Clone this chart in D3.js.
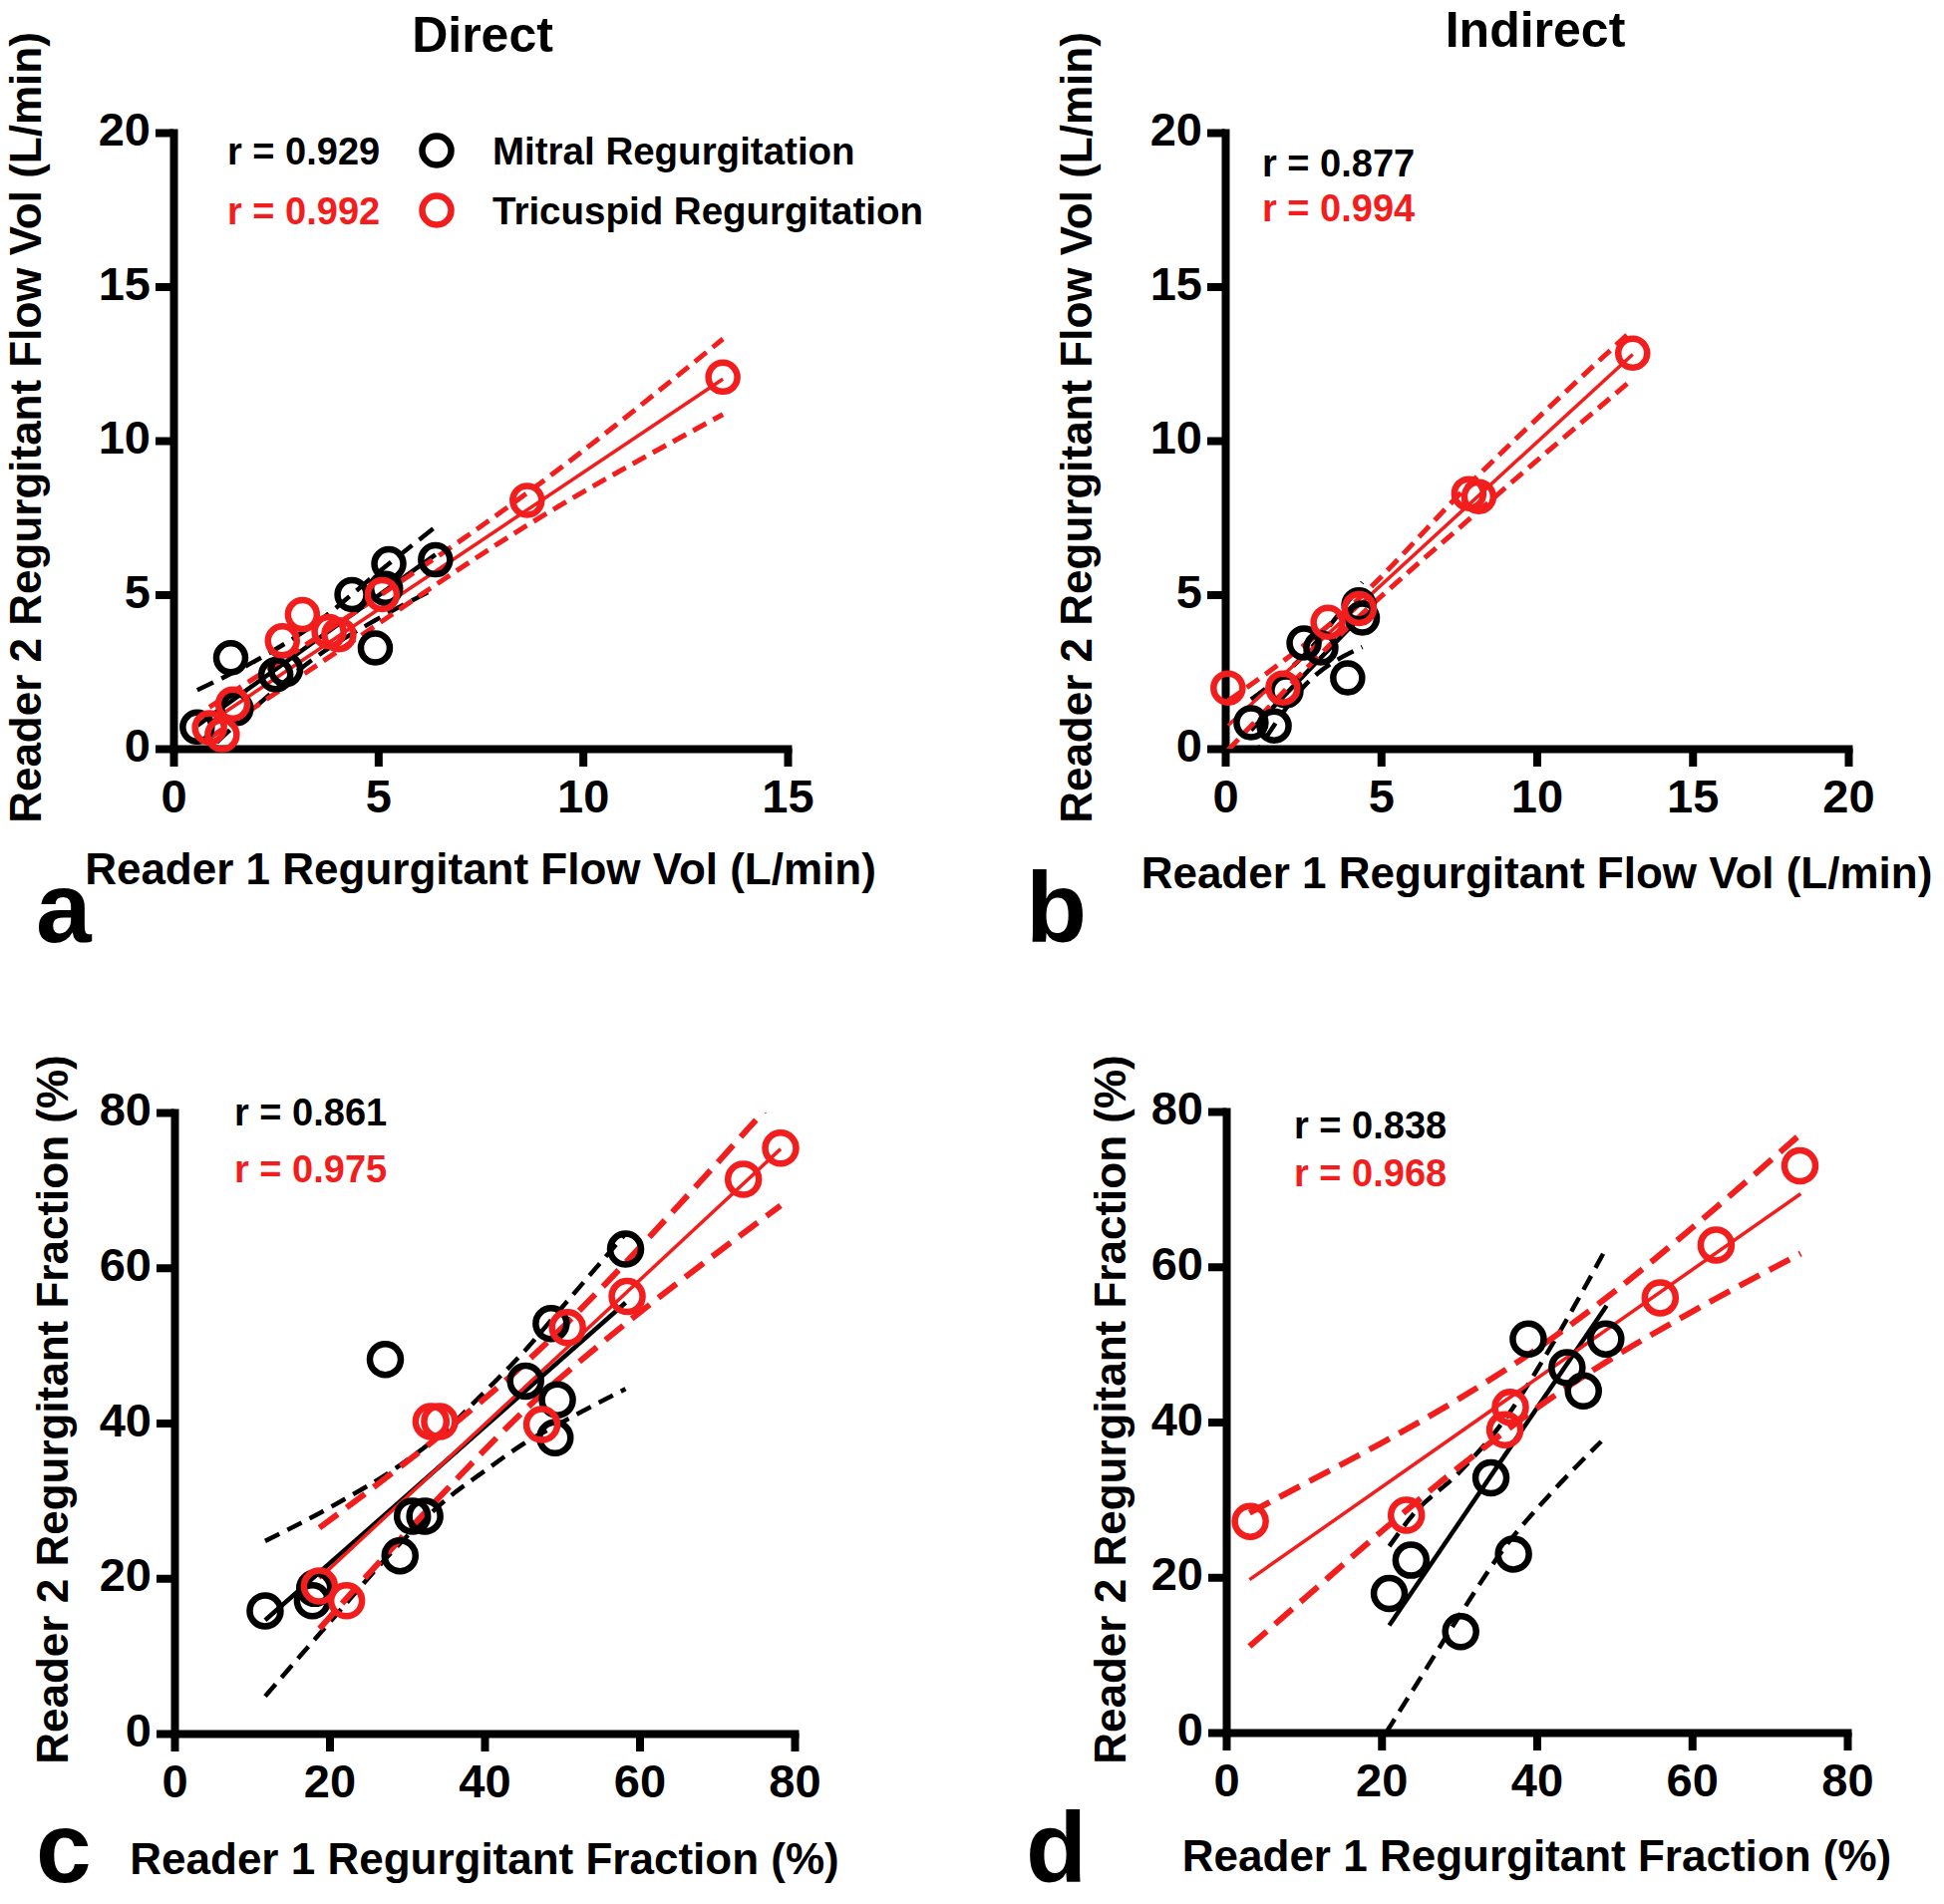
<!DOCTYPE html>
<html>
<head>
<meta charset="utf-8">
<script src="https://cdn.jsdelivr.net/npm/d3@7"></script>
<style>
  body { margin: 0; background: #fff; }
  svg text { font-family: "Liberation Sans", Arial, sans-serif; font-weight: bold; }
</style>
</head>
<body>
<div id="chart"></div>
<script>
// ---- data ----
const flowTicks = [0, 5, 10, 15]
const flowTicksB = [0, 5, 10, 15, 20]
const flowTicksY = [0, 5, 10, 15, 20]
const fracTicks = [0, 20, 40, 60, 80]

// a: direct flow volume
const aMitral = [[0.58, 0.7], [1.53, 1.3], [1.40, 2.95], [2.50, 2.40], [2.74, 2.57], [4.36, 5.0], [5.26, 6.0], [5.18, 5.2], [4.93, 3.27], [6.40, 6.13]]
const aTricuspid = [[0.88, 0.68], [1.19, 0.45], [1.45, 1.45], [2.66, 3.5], [3.15, 4.35], [3.8, 3.8], [4.04, 3.7], [5.1, 5.0], [8.64, 8.06], [13.42, 12.06]]
const aMitralFit = [[0.58, 0.75], [6.4, 6.3]]
const aMitralUp = [[0.58, 1.9], [2, 2.85], [3.5, 4.09], [5, 5.72], [6.4, 7.2]]
const aMitralLo = [[0.58, -0.4], [2, 1.35], [3.5, 2.99], [5, 4.22], [6.4, 5.2]]
const aTricFit = [[0.88, 0.85], [13.42, 12.0]]
const aTricUp = [[0.88, 1.35], [4, 4.05], [8.64, 8.3], [13.42, 13.3]]
const aTricLo = [[0.88, 0.35], [4, 3.15], [8.64, 7.25], [13.42, 10.85]]

// b: indirect flow volume
const bMitral = [[0.83, 0.84], [1.57, 0.74], [1.95, 1.88], [2.53, 3.43], [3.07, 3.27], [3.93, 2.3], [4.29, 4.67], [4.4, 4.24]]
const bTricuspid = [[0.09, 1.97], [1.85, 1.97], [3.3, 4.1], [4.3, 4.55], [7.82, 8.28], [8.14, 8.18], [13.08, 12.84]]
const bMitralFit = [[0.83, 0.6], [4.4, 4.35]]
const bMitralUp = [[0.83, 1.6], [2.6, 3.1], [4.4, 5.4]]
const bMitralLo = [[0.83, -0.4], [2.6, 2.1], [4.4, 3.3]]
const bTricFit = [[0.09, 0.75], [13.08, 12.8]]
const bTricUp = [[0.09, 1.55], [4, 4.6], [7.95, 8.7], [13.08, 13.6]]
const bTricLo = [[0.09, -0.05], [4, 4.0], [7.95, 7.55], [13.08, 12.0]]

// c: direct regurgitant fraction
const cMitral = [[11.7, 15.8], [17.8, 17.1], [18.1, 18.7], [27.2, 48.2], [29.1, 22.9], [30.7, 28], [32.3, 28], [45.3, 45.4], [48.6, 52.8], [49.4, 43], [49.1, 38.1], [58.2, 62.4]]
const cTricuspid = [[18.7, 19], [22.2, 17.1], [33.1, 40.2], [34.2, 40.2], [47.4, 39.8], [50.7, 52.3], [58.4, 56.3], [73.4, 71.4], [78.2, 75.4]]
const cMitralFit = [[11.7, 14.6], [58.2, 55.5]]
const cMitralUp = [[11.7, 24.8], [20, 29.1], [30, 35.2], [35, 39.1], [40, 44.0], [45, 49.1], [50, 54.9], [58.2, 64.4]]
const cMitralLo = [[11.7, 4.8], [20, 14.3], [30, 25.4], [35, 30.1], [40, 33.8], [45, 37.3], [50, 40.1], [58.2, 44.4]]
const cTricFit = [[18.7, 20.0], [78.2, 75.3]]
const cTricUp = [[18.7, 26.5], [25, 31.2], [35, 39.0], [46.3, 48.7], [55, 57.3], [65, 68.0], [74, 77.9], [78.2, 82.6]]
const cTricLo = [[18.7, 13.5], [25, 20.5], [35, 31.3], [46.3, 42.7], [55, 50.2], [65, 58.1], [74, 64.9], [78.2, 68.0]]

// d: indirect regurgitant fraction
const dMitral = [[21.0, 17.9], [23.8, 22.2], [30.2, 13.0], [34.1, 32.8], [37.0, 23.0], [38.9, 50.7], [43.9, 47.0], [46.0, 44.0], [48.9, 50.7]]
const dTricuspid = [[3.1, 27.2], [23.2, 28.0], [35.9, 39.0], [36.6, 41.9], [55.9, 56.0], [63.1, 62.8], [73.9, 73.0]]
const dMitralFit = [[21, 13.8], [49, 55]]
const dMitralUp = [[21, 24], [24, 28], [30, 33.5], [36, 40.5], [42, 50], [49, 62.5]]
const dMitralLo = [[20.6, 0], [25, 7], [30, 15], [36, 24], [42, 31], [48.3, 37.5]]
const dTricFit = [[3, 19.7], [74, 69.4]]
const dTricUp = [[3, 28.3], [10, 32.0], [20, 37.3], [30, 43.0], [41, 50.1], [50, 56.8], [60, 65.0], [74, 77.1]]
const dTricLo = [[3, 11.1], [10, 17.2], [20, 25.9], [30, 34.2], [41, 42.5], [50, 48.4], [60, 54.2], [74, 61.7]]

// ---- layout ----
const RED = "#f21d1d"
const BLACK = "#000"

const svg = d3.select("#chart").append("svg")
  .attr("width", 1950)
  .attr("height", 1910)

const panels = [
  {
    id: "a", left: 174, right: 790, top: 133, bottom: 751,
    xDomain: [0, 15], yDomain: [0, 20], xTicks: flowTicks, yTicks: flowTicksY,
    mitral: aMitral, tric: aTricuspid,
    mFit: aMitralFit, mUp: aMitralUp, mLo: aMitralLo,
    tFit: aTricFit, tUp: aTricUp, tLo: aTricLo,
    title: "Direct", titleX: 484, titleY: 52,
    xLabel: "Reader 1 Regurgitant Flow Vol (L/min)", xLabelY: 887,
    yLabel: "Reader 2 Regurgitant Flow Vol (L/min)", yLabelX: 41, yLabelY: 429,
    letter: "a", letterX: 36, letterY: 945,
    r: ["r = 0.929", "r = 0.992"], rX: 228, rY: [165, 225],
    legend: true, small: true
  },
  {
    id: "b", left: 1229, right: 1854, top: 133, bottom: 751,
    xDomain: [0, 20], yDomain: [0, 20], xTicks: flowTicksB, yTicks: flowTicksY,
    mitral: bMitral, tric: bTricuspid,
    mFit: bMitralFit, mUp: bMitralUp, mLo: bMitralLo,
    tFit: bTricFit, tUp: bTricUp, tLo: bTricLo,
    title: "Indirect", titleX: 1540, titleY: 47,
    xLabel: "Reader 1 Regurgitant Flow Vol (L/min)", xLabelY: 891,
    yLabel: "Reader 2 Regurgitant Flow Vol (L/min)", yLabelX: 1095, yLabelY: 429,
    letter: "b", letterX: 1029, letterY: 945,
    r: ["r = 0.877", "r = 0.994"], rX: 1266, rY: [177, 222],
    legend: false, small: true
  },
  {
    id: "c", left: 175, right: 797, top: 1116, bottom: 1739,
    xDomain: [0, 80], yDomain: [0, 80], xTicks: fracTicks, yTicks: fracTicks,
    mitral: cMitral, tric: cTricuspid,
    mFit: cMitralFit, mUp: cMitralUp, mLo: cMitralLo,
    tFit: cTricFit, tUp: cTricUp, tLo: cTricLo,
    title: null,
    xLabel: "Reader 1 Regurgitant Fraction (%)", xLabelY: 1880,
    yLabel: "Reader 2 Regurgitant Fraction (%)", yLabelX: 68, yLabelY: 1414,
    letter: "c", letterX: 36, letterY: 1888,
    r: ["r = 0.861", "r = 0.975"], rX: 235, rY: [1129, 1186],
    legend: false, small: false
  },
  {
    id: "d", left: 1230, right: 1853, top: 1115, bottom: 1738,
    xDomain: [0, 80], yDomain: [0, 80], xTicks: fracTicks, yTicks: fracTicks,
    mitral: dMitral, tric: dTricuspid,
    mFit: dMitralFit, mUp: dMitralUp, mLo: dMitralLo,
    tFit: dTricFit, tUp: dTricUp, tLo: dTricLo,
    title: null,
    xLabel: "Reader 1 Regurgitant Fraction (%)", xLabelY: 1877,
    yLabel: "Reader 2 Regurgitant Fraction (%)", yLabelX: 1129, yLabelY: 1414,
    letter: "d", letterX: 1029, letterY: 1888,
    r: ["r = 0.838", "r = 0.968"], rX: 1298, rY: [1142, 1190],
    legend: false, small: false
  }
]

panels.forEach(drawPanel)

function drawPanel(p) {
  const x = d3.scaleLinear().domain(p.xDomain).range([p.left, p.right])
  const y = d3.scaleLinear().domain(p.yDomain).range([p.bottom, p.top])

  svg.append("clipPath")
    .attr("id", "clip-" + p.id)
    .append("rect")
    .attr("x", p.left)
    .attr("y", p.top)
    .attr("width", p.right - p.left)
    .attr("height", p.bottom - p.top)

  // axes
  const gX = svg.append("g")
    .attr("transform", `translate(0,${p.bottom})`)
    .call(d3.axisBottom(x).tickValues(p.xTicks).tickSize(18).tickSizeOuter(0).tickPadding(13))
  const gY = svg.append("g")
    .attr("transform", `translate(${p.left},0)`)
    .call(d3.axisLeft(y).tickValues(p.yTicks).tickSize(18).tickSizeOuter(0).tickPadding(5))

  ;[gX, gY].forEach(g => {
    g.select(".domain")
      .attr("stroke", BLACK)
      .attr("stroke-width", 8)
      .attr("stroke-linecap", "square")
    g.selectAll(".tick line")
      .attr("stroke", BLACK)
      .attr("stroke-width", 8)
    g.selectAll(".tick text")
      .attr("fill", BLACK)
      .style("font-size", "47px")
      .style("font-family", "'Liberation Sans', Arial, sans-serif")
      .style("font-weight", "bold")
  })
  gY.selectAll(".tick text").attr("dy", "0.27em")

  // fit lines and 95% bands
  const line = d3.line().x(d => x(d[0])).y(d => y(d[1]))
  const band = d3.line().x(d => x(d[0])).y(d => y(d[1])).curve(d3.curveMonotoneX)
  const lines = svg.append("g").attr("clip-path", `url(#clip-${p.id})`)

  const blackDash = p.small ? "18,9" : "16,9"
  const redDash = p.small ? "15,8" : "23,11"

  lines.append("path").attr("d", line(p.mFit))
    .attr("fill", "none").attr("stroke", BLACK).attr("stroke-width", 4.5)
  ;[p.mUp, p.mLo].forEach(b => {
    lines.append("path").attr("d", band(b))
      .attr("fill", "none").attr("stroke", BLACK).attr("stroke-width", 4.5)
      .attr("stroke-dasharray", blackDash)
  })
  lines.append("path").attr("d", line(p.tFit))
    .attr("fill", "none").attr("stroke", RED).attr("stroke-width", 3.5)
  ;[p.tUp, p.tLo].forEach(b => {
    lines.append("path").attr("d", band(b))
      .attr("fill", "none").attr("stroke", RED).attr("stroke-width", p.small ? 5 : 6)
      .attr("stroke-dasharray", redDash)
  })

  // points
  const rad = p.small ? 14.5 : 15.5
  svg.append("g").selectAll("circle")
    .data(p.mitral)
    .enter()
    .append("circle")
    .attr("cx", d => x(d[0]))
    .attr("cy", d => y(d[1]))
    .attr("r", rad)
    .attr("fill", "none")
    .attr("stroke", BLACK)
    .attr("stroke-width", 6.5)
  svg.append("g").selectAll("circle")
    .data(p.tric)
    .enter()
    .append("circle")
    .attr("cx", d => x(d[0]))
    .attr("cy", d => y(d[1]))
    .attr("r", rad)
    .attr("fill", "none")
    .attr("stroke", RED)
    .attr("stroke-width", 6.5)

  // texts
  if (p.title) {
    svg.append("text")
      .attr("x", p.titleX).attr("y", p.titleY)
      .attr("text-anchor", "middle")
      .style("font-size", "50px")
      .text(p.title)
  }
  svg.append("text")
    .attr("x", (p.left + p.right) / 2).attr("y", p.xLabelY)
    .attr("text-anchor", "middle")
    .style("font-size", "44px")
    .text(p.xLabel)
  svg.append("text")
    .attr("transform", `translate(${p.yLabelX},${p.yLabelY}) rotate(-90)`)
    .attr("text-anchor", "middle")
    .style("font-size", "44px")
    .text(p.yLabel)
  svg.append("text")
    .attr("x", p.letterX).attr("y", p.letterY)
    .style("font-size", "100px")
    .text(p.letter)

  p.r.forEach((t, i) => {
    svg.append("text")
      .attr("x", p.rX).attr("y", p.rY[i])
      .style("font-size", "38px")
      .attr("fill", i == 0 ? BLACK : RED)
      .text(t)
  })

  if (p.legend) {
    const names = ["Mitral Regurgitation", "Tricuspid Regurgitation"]
    names.forEach((n, i) => {
      svg.append("circle")
        .attr("cx", 438).attr("cy", p.rY[i] - 14)
        .attr("r", rad)
        .attr("fill", "none")
        .attr("stroke", i == 0 ? BLACK : RED)
        .attr("stroke-width", 6.5)
      svg.append("text")
        .attr("x", 494).attr("y", p.rY[i])
        .style("font-size", "38.5px")
        .text(n)
    })
  }
}
</script>
</body>
</html>
